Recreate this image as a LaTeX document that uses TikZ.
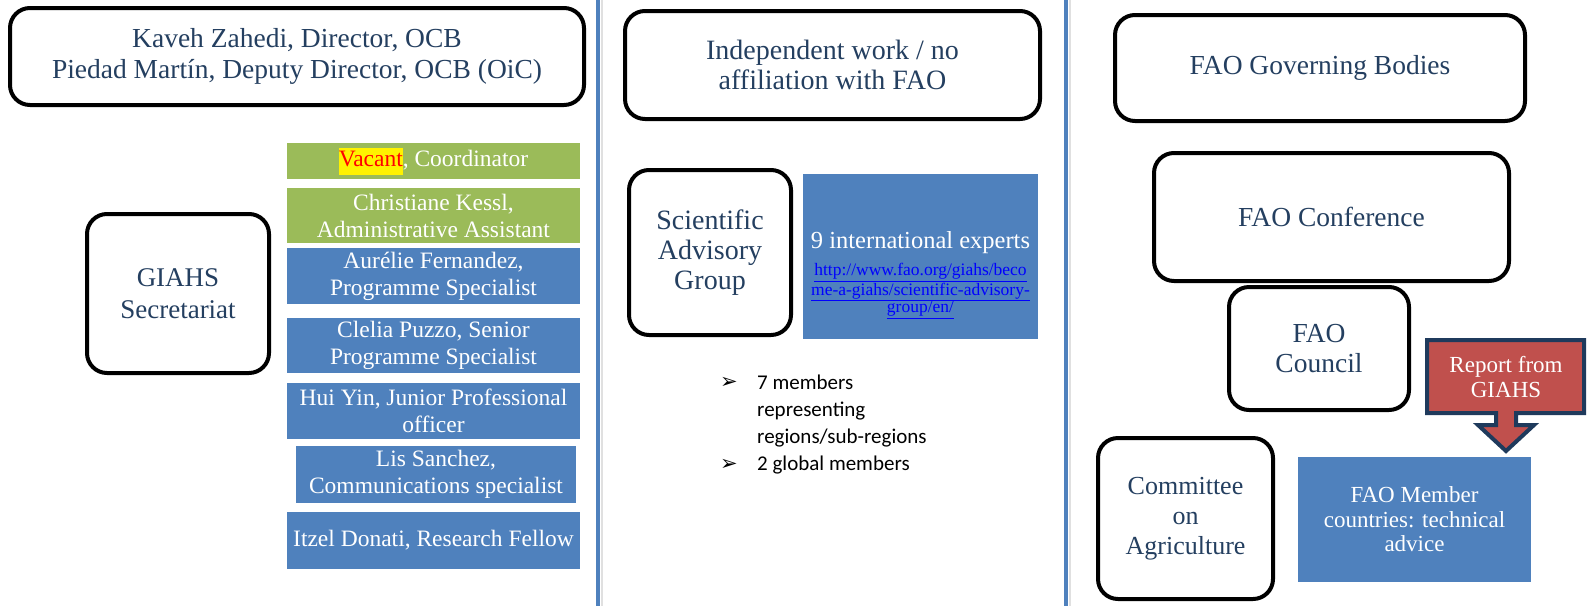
\documentclass[tikz,border=0pt]{standalone}
\usepackage{fontspec}
\setmainfont{Liberation Serif}
\newfontfamily\calibrifont{Carlito}
\newfontfamily\symfont{DejaVu Sans}
\usetikzlibrary{backgrounds,positioning}
\usepackage{xcolor}
\definecolor{boxtext}{HTML}{243F60}
\definecolor{accblue}{HTML}{4F81BD}
\definecolor{accgreen}{HTML}{9BBB59}
\definecolor{accred}{HTML}{C0504D}
\definecolor{calloutedge}{HTML}{1F3A5C}
\definecolor{linkblue}{HTML}{0000FF}
\newcommand{\vacant}[1]{{\setlength{\fboxsep}{0pt}\colorbox{yellow}{\strut\color{red}#1}}}
\newcommand{\bigtxt}{\fontsize{27.5}{31}\selectfont}

\begin{document}
\begin{tikzpicture}[x=1pt,y=-1pt]
    \tikzstyle{every node}=[inner sep=0pt,align=center];
    \tikzstyle{roundbox}=[draw,line width=4pt,rounded corners=20pt,fill=white,text=boxtext,font=\bigtxt];
    \tikzstyle{staffbox}=[text=white,font=\fontsize{23.5}{27}\selectfont,minimum height=56pt];
    \tikzstyle{plainbox}=[fill=accblue,text=white];
    \tikzstyle{bullet}=[font=\symfont\fontsize{21}{21}\selectfont];

    \useasboundingbox (0,0) rectangle (1589,606);

    % separators
    \draw[black!12,line width=2pt] (602,0) -- (602,606);
    \draw[accblue,line width=4.5pt] (598,0) -- (598,606);
    \draw[black!12,line width=2pt] (1070,0) -- (1070,606);
    \draw[accblue,line width=4.5pt] (1066,0) -- (1066,606);

    % left column
    \node[roundbox,minimum width=574pt,minimum height=97pt] (ocb) at (297,56.5)
        {Kaveh Zahedi, Director, OCB\\Piedad Martín, Deputy Director, OCB (OiC)};
    \node[roundbox,minimum width=182pt,minimum height=159pt,font=\fontsize{27}{32}\selectfont] (sec) at (178,293.5)
        {GIAHS\\Secretariat};

    \node[staffbox,fill=accgreen,minimum width=293pt,minimum height=36pt] (vac) at (433.5,161) {\vacant{Vacant}, Coordinator};
    \node[staffbox,fill=accgreen,minimum width=293pt,minimum height=55pt] (kessl) at (433.5,215.5) {Christiane Kessl,\\Administrative Assistant};
    \node[staffbox,plainbox,minimum width=293pt] (fern) at (433.5,276) {Aurélie Fernandez,\\Programme Specialist};
    \node[staffbox,plainbox,minimum width=293pt,minimum height=55pt] (puzzo) at (433.5,345.5) {Clelia Puzzo, Senior\\Programme Specialist};
    \node[staffbox,plainbox,minimum width=293pt] (yin) at (433.5,411) {Hui Yin, Junior Professional\\officer};
    \node[staffbox,plainbox,minimum width=280pt,minimum height=57pt] (sanchez) at (436,474.5) {Lis Sanchez,\\Communications specialist};
    \node[staffbox,plainbox,minimum width=293pt,minimum height=57pt] (donati) at (433.5,540.5) {Itzel Donati, Research Fellow};

    % middle column
    \node[roundbox,minimum width=415pt,minimum height=108pt,font=\fontsize{28}{30}\selectfont] (indep) at (832.5,65)
        {Independent work / no\\affiliation with FAO};
    \node[roundbox,minimum width=162pt,minimum height=165pt,font=\fontsize{28}{30}\selectfont] (sag) at (710,252.5)
        {Scientific\\Advisory\\Group};
    \node[plainbox,minimum width=235pt,minimum height=165pt] (experts) at (920.5,256.5) {};
    \node[text=white,font=\fontsize{24.5}{28}\selectfont] (expnum) at (920.5,243) {9 international experts};
    \node[text=linkblue,font=\fontsize{17.5}{17.5}\selectfont] (explink) at (920.5,291)
        {\underline{http://www.fao.org/giahs/beco}\\\underline{me-a-giahs/scientific-advisory-}\\\underline{group/en/}};

    \node[bullet] (arr1) at (729,383) {➢};
    \node[bullet] (arr2) at (729,465) {➢};
    \node[anchor=north west,align=left,font=\calibrifont\fontsize{21}{27}\selectfont] (members) at (757,375)
        {7 members\\representing\\regions/sub-regions};
    \node[anchor=north west,align=left,font=\calibrifont\fontsize{21}{27}\selectfont] (globals) at (757,456)
        {2 global members};

    % right column
    \node[roundbox,minimum width=410pt,minimum height=106pt] (fgb) at (1320,68) {FAO Governing Bodies};
    \node[roundbox,minimum width=355pt,minimum height=128pt] (conf) at (1331.5,217) {FAO Conference};
    \node[roundbox,minimum width=180pt,minimum height=123pt,font=\fontsize{27.5}{30}\selectfont] (council) at (1319,348.5) {FAO\\Council};
    \node[roundbox,minimum width=175pt,minimum height=161pt,font=\fontsize{26}{30}\selectfont] (coag) at (1185.5,518.5) {Committee\\on\\Agriculture};
    \node[plainbox,minimum width=233pt,minimum height=125pt,font=\fontsize{23}{24.5}\selectfont] (member) at (1414.5,519.5)
        {FAO Member\\countries: technical\\advice};

    \draw[line width=4pt,draw=calloutedge,fill=accred,line join=miter]
        (1427,340) -- (1584,340) -- (1584,413) -- (1516,413) -- (1516,425) -- (1534,425)
        -- (1506,451) -- (1478,425) -- (1496,425) -- (1496,413) -- (1427,413) -- cycle;
    \node[text=white,font=\fontsize{23}{25}\selectfont] (report) at (1506,377) {Report from\\GIAHS};
\end{tikzpicture}
\end{document}
